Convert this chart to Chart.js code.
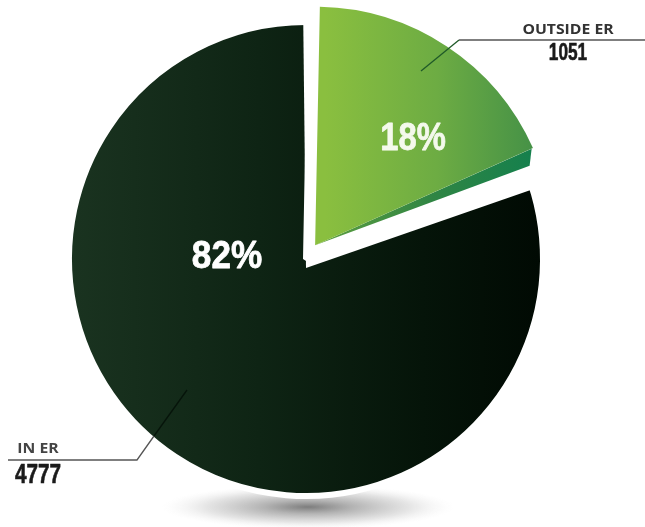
<!DOCTYPE html>
<html><head><meta charset="utf-8">
<style>html,body{margin:0;padding:0;background:#fff}canvas{display:block}</style>
<script src="https://cdn.jsdelivr.net/npm/chart.js@4"></script>
</head><body>
<canvas id="c" width="645" height="527"></canvas>
<script>
const categories = ["IN ER", "OUTSIDE ER"];
const values = [4777, 1051];
const percentLabels = ["82%", "18%"];
const valueLabels = ["4777", "1051"];

const heavy = '"Liberation Sans",sans-serif';
const wide = '"Open Sans","DejaVu Sans",sans-serif';

function fill(ctx, x0, x1, stops){
  const g = ctx.createLinearGradient(x0, 0, x1, 0);
  stops.forEach(s => g.addColorStop(s[0], s[1]));
  return g;
}
function label(ctx, text, x, y, font, sx, color, weight){
  ctx.save();
  ctx.translate(x, y);
  ctx.scale(sx, 1);
  ctx.font = font;
  ctx.fillStyle = color;
  ctx.textAlign = 'center';
  ctx.textBaseline = 'middle';
  if (weight){ ctx.strokeStyle = color; ctx.lineWidth = weight; ctx.lineJoin = 'round'; ctx.strokeText(text, 0, 0); }
  ctx.fillText(text, 0, 0);
  ctx.restore();
}

const decor = {
  id: 'decor',
  beforeDatasetsDraw(chart){
    const ctx = chart.ctx;
    ctx.save();
    ctx.translate(308, 507);
    ctx.scale(1, 22 / 146);
    const s = ctx.createRadialGradient(0, 0, 0, 0, 0, 146);
    s.addColorStop(0, 'rgba(125,125,125,1)');
    s.addColorStop(0.3, 'rgba(175,175,175,.95)');
    s.addColorStop(0.7, 'rgba(225,225,225,.85)');
    s.addColorStop(1, 'rgba(245,245,245,0)');
    ctx.fillStyle = s;
    ctx.beginPath(); ctx.arc(0, 0, 146, 0, Math.PI * 2); ctx.fill();
    ctx.restore();
  },
  afterDatasetsDraw(chart){
    const ctx = chart.ctx;
    const el = chart.getDatasetMeta(0).data[1];
    const p = el.getProps(['x','y','startAngle','endAngle','outerRadius']);
    const mid = (p.startAngle + p.endAngle) / 2, off = el.options.offset / 4;
    const ax = p.x + Math.cos(mid) * off, ay = p.y + Math.sin(mid) * off;
    const tx = ax + Math.cos(p.endAngle) * p.outerRadius, ty = ay + Math.sin(p.endAngle) * p.outerRadius;

    ctx.save();
    // white notch between the two slices
    ctx.fillStyle = '#fff';
    ctx.beginPath();
    ctx.moveTo(306, 268); ctx.lineTo(548, 184); ctx.lineTo(548, 0); ctx.lineTo(303, 0);
    ctx.closePath(); ctx.fill();
    // bevel of the pulled-out slice
    const b = ctx.createLinearGradient(ax, 0, tx, 0);
    b.addColorStop(0, '#5f9f3f');
    b.addColorStop(0.55, '#2f8544');
    b.addColorStop(1, '#15804d');
    ctx.fillStyle = b;
    ctx.beginPath();
    ctx.moveTo(ax, ay); ctx.lineTo(tx, ty); ctx.lineTo(tx - 2, ty + 17); ctx.closePath();
    ctx.fill();
    ctx.restore();
    el.draw(ctx);

    ctx.save();
    ctx.lineWidth = 1.3;
    ctx.strokeStyle = '#1f5a28';
    ctx.beginPath(); ctx.moveTo(421, 71); ctx.lineTo(459, 40); ctx.stroke();
    ctx.strokeStyle = '#555';
    ctx.beginPath(); ctx.moveTo(459, 40); ctx.lineTo(645, 40); ctx.stroke();
    ctx.beginPath(); ctx.moveTo(8, 460); ctx.lineTo(137, 460); ctx.lineTo(154, 436); ctx.stroke();
    ctx.strokeStyle = '#06140a';
    ctx.beginPath(); ctx.moveTo(154, 436); ctx.lineTo(187, 390); ctx.stroke();
    ctx.restore();

    label(ctx, percentLabels[0], 227, 257, 'bold 39px ' + heavy, 0.9, '#ffffff', 0.8);
    label(ctx, percentLabels[1], 413, 139, 'bold 39px ' + heavy, 0.84, '#f4f9ec', 0.8);
    label(ctx, categories[1], 568, 29.5, 'bold 15px ' + wide, 1.05, '#333333');
    label(ctx, categories[0], 38, 449, 'bold 15px ' + wide, 1.05, '#444444');
    label(ctx, valueLabels[1], 568, 54, 'bold 23px ' + heavy, 0.75, '#1a1a1a', 0.6);
    label(ctx, valueLabels[0], 38, 476, 'bold 27px ' + heavy, 0.77, '#1a1a1a', 0.6);
  }
};

new Chart(document.getElementById('c'), {
  type: 'pie',
  data: {
    labels: categories,
    datasets: [{
      data: values,
      backgroundColor: ctx => {
        const c = ctx.chart.ctx;
        return ctx.dataIndex === 0
          ? fill(c, 72, 540, [[0, '#1a3320'], [0.4, '#0e2414'], [0.75, '#051409'], [1, '#010a03']])
          : fill(c, 316, 540, [[0, '#8abf3f'], [0.5, '#6dac43'], [1, '#3f8d47']]);
      },
      borderColor: '#ffffff',
      borderWidth: [6, 0],
      offset: [0, 66],
      hoverOffset: 0
    }]
  },
  options: {
    responsive: false,
    animation: false,
    radius: 237,
    rotation: 66,
    layout: { padding: { left: 0, right: 33, top: 0, bottom: 9 } },
    plugins: { legend: { display: false }, tooltip: { enabled: false } },
    events: []
  },
  plugins: [decor]
});
</script>
</body></html>
